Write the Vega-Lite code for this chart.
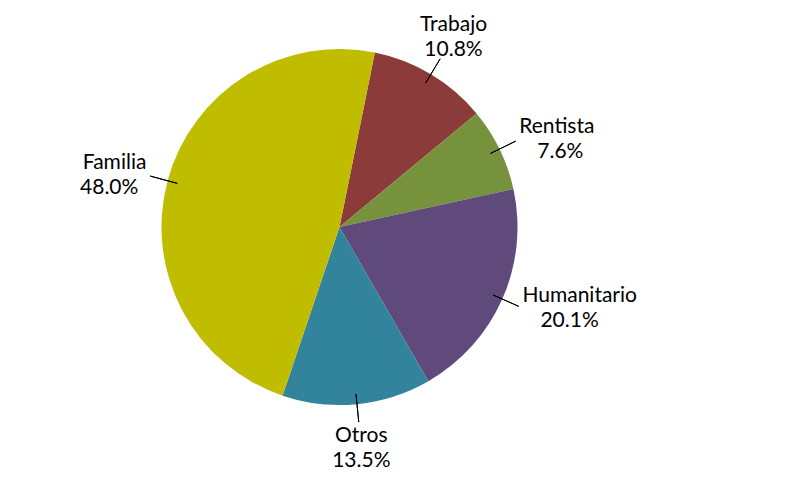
{
  "$schema": "https://vega.github.io/schema/vega-lite/v6.json",
  "autosize": {"type": "fit", "contains": "padding"},
  "width": 789,
  "height": 479,
  "padding": {"left": 0, "right": 110, "top": 0, "bottom": 20},
  "background": "white",
  "view": {"stroke": null},
  "data": {
    "values": [
      {"category": "Trabajo", "share": 0.108},
      {"category": "Rentista", "share": 0.076},
      {"category": "Humanitario", "share": 0.201},
      {"category": "Otros", "share": 0.135},
      {"category": "Familia", "share": 0.48}
    ]
  },
  "transform": [{"window": [{"op": "row_number", "as": "rank"}]}],
  "encoding": {
    "theta": {"field": "share", "type": "quantitative", "stack": true, "scale": {"range": [0.2, 6.4832]}},
    "order": {"field": "rank", "type": "quantitative"}
  },
  "layer": [
    {
      "mark": {"type": "arc", "outerRadius": 178},
      "encoding": {
        "color": {
          "field": "category",
          "type": "nominal",
          "scale": {
            "domain": ["Trabajo", "Rentista", "Humanitario", "Otros", "Familia"],
            "range": ["#8C3B3B", "#76923C", "#5F4A7B", "#31849B", "#C0BC00"]
          },
          "legend": null
        }
      }
    },
    {
      "mark": {"type": "arc", "innerRadius": 168, "outerRadius": 196, "padAngle": 3.14, "fill": null, "stroke": "black", "strokeWidth": 1}
    },
    {
      "mark": {"type": "text", "radius": 222, "dy": -12, "font": "Lato", "fontSize": 21, "color": "black", "align": "center", "baseline": "middle"},
      "encoding": {"text": {"condition": {"test": "datum.category === 'Trabajo' || datum.category === 'Otros'", "field": "category", "type": "nominal"}, "value": ""}}
    },
    {
      "mark": {"type": "text", "radius": 222, "dy": 13, "font": "Lato", "fontSize": 21, "color": "black", "align": "center", "baseline": "middle"},
      "encoding": {"text": {"condition": {"test": "datum.category === 'Trabajo' || datum.category === 'Otros'", "field": "share", "type": "quantitative", "format": ".1%"}, "value": ""}}
    },
    {
      "mark": {"type": "text", "radius": 200, "dy": -12, "font": "Lato", "fontSize": 21, "color": "black", "align": "left", "baseline": "middle"},
      "encoding": {"text": {"condition": {"test": "datum.category === 'Rentista' || datum.category === 'Humanitario'", "field": "category", "type": "nominal"}, "value": ""}}
    },
    {
      "mark": {"type": "text", "radius": 200, "dy": 13, "dx": 18, "font": "Lato", "fontSize": 21, "color": "black", "align": "left", "baseline": "middle"},
      "encoding": {"text": {"condition": {"test": "datum.category === 'Rentista' || datum.category === 'Humanitario'", "field": "share", "type": "quantitative", "format": ".1%"}, "value": ""}}
    },
    {
      "mark": {"type": "text", "radius": 200, "dy": -12, "font": "Lato", "fontSize": 21, "color": "black", "align": "right", "baseline": "middle"},
      "encoding": {"text": {"condition": {"test": "datum.category === 'Familia'", "field": "category", "type": "nominal"}, "value": ""}}
    },
    {
      "mark": {"type": "text", "radius": 200, "dy": 13, "dx": -8, "font": "Lato", "fontSize": 21, "color": "black", "align": "right", "baseline": "middle"},
      "encoding": {"text": {"condition": {"test": "datum.category === 'Familia'", "field": "share", "type": "quantitative", "format": ".1%"}, "value": ""}}
    }
  ]
}
